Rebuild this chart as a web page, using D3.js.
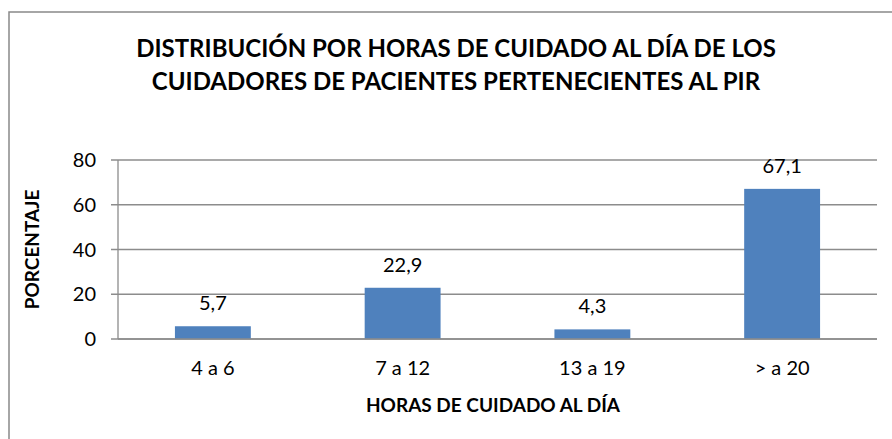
<!DOCTYPE html>
<html>
<head>
<meta charset="utf-8">
<script src="https://cdn.jsdelivr.net/npm/d3@7"></script>
<style>
  body { margin: 0; background: #fff; }
  text { font-family: Lato, "Open Sans", sans-serif; fill: #000; }
</style>
</head>
<body>
<script>
const width = 892;
const height = 439;

const categories = ['4 a 6', '7 a 12', '13 a 19', '> a 20'];
const values = [5.7, 22.9, 4.3, 67.1];
const valueLabels = ['5,7', '22,9', '4,3', '67,1'];
const yTicks = [0, 20, 40, 60, 80];
const titleLines = [
  'DISTRIBUCIÓN POR HORAS DE CUIDADO AL DÍA DE LOS',
  'CUIDADORES DE PACIENTES PERTENECIENTES AL PIR',
];

const svg = d3.select('body').append('svg').attr('width', width).attr('height', height);

// chart frame
svg
  .append('rect')
  .attr('x', 9)
  .attr('y', 12)
  .attr('width', 900)
  .attr('height', 500)
  .attr('fill', 'none')
  .attr('stroke', '#898989')
  .attr('stroke-width', 1.5);

const plot = { left: 118, right: 877, top: 160, bottom: 339 };

const x = d3
  .scaleBand()
  .domain(categories)
  .range([plot.left, plot.right])
  .paddingInner(0.6)
  .paddingOuter(0.3);

const y = d3.scaleLinear().domain([0, 80]).range([plot.bottom, plot.top]);

// gridlines
svg
  .selectAll('.grid')
  .data(yTicks)
  .enter()
  .append('line')
  .attr('class', 'grid')
  .attr('x1', plot.left - 7)
  .attr('x2', plot.right)
  .attr('y1', (d) => y(d))
  .attr('y2', (d) => y(d))
  .attr('stroke', '#8c8c8c')
  .attr('stroke-width', 1.3);

// y axis line
svg
  .append('line')
  .attr('x1', plot.left)
  .attr('x2', plot.left)
  .attr('y1', plot.top)
  .attr('y2', plot.bottom)
  .attr('stroke', '#8c8c8c')
  .attr('stroke-width', 1.3);

svg
  .selectAll('.ytick')
  .data(yTicks)
  .enter()
  .append('text')
  .attr('class', 'ytick')
  .attr('x', plot.left - 22)
  .attr('y', (d) => y(d))
  .attr('dy', '0.36em')
  .attr('text-anchor', 'end')
  .attr('font-size', 20)
  .text((d) => d);

// bars
svg
  .selectAll('.bar')
  .data(values)
  .enter()
  .append('rect')
  .attr('class', 'bar')
  .attr('x', (d, i) => x(categories[i]))
  .attr('y', (d) => y(d))
  .attr('width', x.bandwidth())
  .attr('height', (d) => y(0) - y(d))
  .attr('fill', '#4f81bd');

// x axis line on top of bars
svg
  .append('line')
  .attr('x1', plot.left)
  .attr('x2', plot.right)
  .attr('y1', plot.bottom)
  .attr('y2', plot.bottom)
  .attr('stroke', '#8c8c8c')
  .attr('stroke-width', 1.5);

svg
  .selectAll('.vlabel')
  .data(values)
  .enter()
  .append('text')
  .attr('class', 'vlabel')
  .attr('x', (d, i) => x(categories[i]) + x.bandwidth() / 2)
  .attr('y', (d) => y(d) - 16)
  .attr('text-anchor', 'middle')
  .attr('font-size', 20)
  .text((d, i) => valueLabels[i]);

svg
  .selectAll('.xtick')
  .data(categories)
  .enter()
  .append('text')
  .attr('class', 'xtick')
  .attr('x', (d) => x(d) + x.bandwidth() / 2)
  .attr('y', 375)
  .attr('text-anchor', 'middle')
  .attr('font-size', 20)
  .text((d) => d);

// titles
svg
  .selectAll('.title')
  .data(titleLines)
  .enter()
  .append('text')
  .attr('class', 'title')
  .attr('x', 456)
  .attr('y', (d, i) => 57 + i * 33)
  .attr('text-anchor', 'middle')
  .attr('font-size', 24)
  .attr('font-weight', 'bold')
  .text((d) => d);

svg
  .append('text')
  .attr('x', 493)
  .attr('y', 412)
  .attr('text-anchor', 'middle')
  .attr('font-size', 19)
  .attr('font-weight', 'bold')
  .text('HORAS DE CUIDADO AL DÍA');

svg
  .append('text')
  .attr('transform', 'translate(39,' + (plot.top + plot.bottom) / 2 + ') rotate(-90)')
  .attr('text-anchor', 'middle')
  .attr('font-size', 19)
  .attr('font-weight', 'bold')
  .text('PORCENTAJE');
</script>
</body>
</html>
